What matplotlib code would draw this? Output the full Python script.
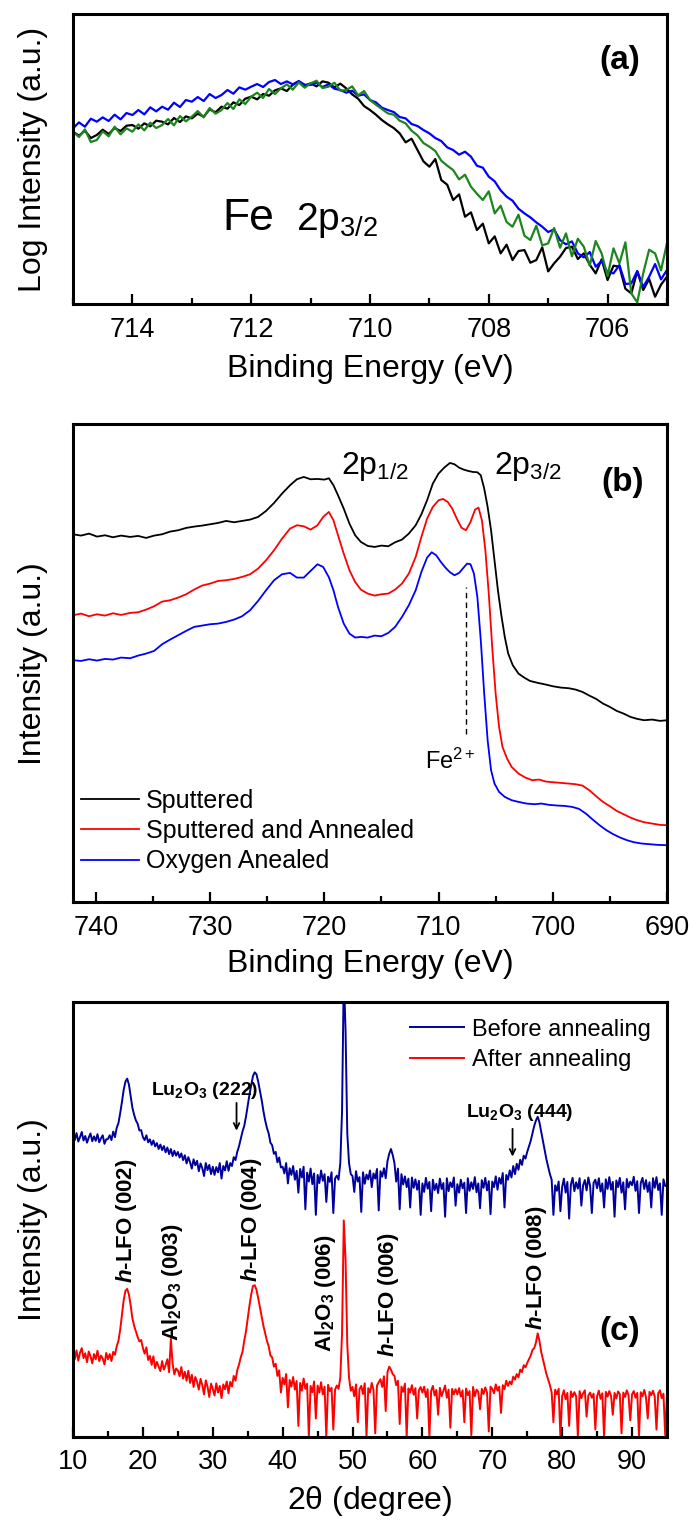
import numpy as np
import matplotlib
matplotlib.use("Agg")
import matplotlib.pyplot as plt
from matplotlib.ticker import MultipleLocator

plt.rcParams['font.family'] = ['Liberation Sans', 'DejaVu Sans']
plt.rcParams['mathtext.fontset'] = 'custom'
plt.rcParams['mathtext.rm'] = 'Liberation Sans'
plt.rcParams['mathtext.it'] = 'Liberation Sans:italic:bold'
plt.rcParams['mathtext.bf'] = 'Liberation Sans:bold'

# --- PANEL (a): Fe 2p3/2 edge, 715 -> 705 eV in 0.1 eV steps ---
a_black = [51.7, 50.5, 52.0, 49.8, 50.7, 52.3, 51.0, 52.8, 51.9, 53.5,
           53.7, 52.6, 54.2, 53.3, 55.0, 54.7, 53.9, 55.8, 54.6, 56.3,
           55.7, 57.1, 56.2, 58.4, 57.5, 59.2, 58.6, 60.5, 59.7, 61.6,
           62.2, 61.4, 63.0, 62.5, 64.1, 64.7, 63.9, 65.8, 66.7, 65.5,
           66.2, 65.3, 66.8, 66.4, 65.0, 66.1, 64.7, 62.9, 61.6, 59.4,
           58.2, 56.8, 55.2, 53.9, 52.8, 51.2, 48.5, 49.6, 46.2, 42.8,
           41.2, 43.5, 37.2, 35.8, 31.2, 32.9, 26.2, 27.5, 22.2, 24.1,
           18.2, 20.3, 15.2, 17.8, 13.2, 15.9, 16.2, 12.4, 13.2, 17.0,
           9.8, 12.2, 14.2, 16.8, 17.2, 13.5, 15.2, 11.8, 9.2, 13.4,
           7.2, 11.5, 11.2, 4.6, 3.2, 9.8, 4.2, 7.5, 2.2, 5.8, 8.2]
a_blue = [52.7, 54.5, 53.2, 55.6, 54.7, 56.0, 54.9, 56.8, 55.4, 57.3,
          56.7, 58.2, 56.9, 59.0, 57.8, 59.2, 58.3, 60.4, 59.1, 61.2,
          60.7, 62.1, 60.9, 63.0, 61.8, 62.7, 64.2, 63.1, 65.0, 64.3,
          65.2, 66.0, 65.1, 66.6, 67.2, 66.0, 66.8, 65.9, 66.9, 65.8,
          65.7, 66.4, 65.1, 65.9, 64.6, 64.2, 63.4, 64.0, 62.5, 62.9,
          61.2, 60.5, 58.9, 58.2, 57.6, 56.1, 55.7, 54.0, 53.4, 52.2,
          51.2, 49.8, 48.9, 47.0, 46.2, 44.8, 45.7, 44.2, 41.5, 40.9,
          38.2, 36.8, 34.1, 32.2, 31.0, 28.6, 27.2, 26.0, 24.5, 23.2,
          21.6, 22.4, 19.2, 17.9, 18.8, 15.2, 14.0, 15.6, 11.2, 12.9,
          9.5, 9.2, 11.7, 6.0, 6.2, 9.9, 5.1, 8.2, 12.0, 7.4, 10.2]
a_green = [51.7, 50.1, 52.4, 48.6, 49.2, 51.8, 50.3, 53.2, 50.9, 52.7,
           51.7, 53.9, 52.1, 54.4, 52.8, 53.7, 55.5, 53.6, 56.4, 54.8,
           56.2, 57.9, 56.0, 58.8, 57.1, 58.2, 60.3, 58.5, 61.4, 60.0,
           62.2, 63.4, 61.8, 64.5, 63.0, 64.7, 65.9, 64.3, 66.5, 64.9,
           66.2, 67.0, 64.8, 65.2, 66.4, 64.0, 64.2, 65.3, 62.6, 63.9,
           61.2, 59.8, 58.5, 57.2, 56.8, 55.0, 54.2, 52.0, 50.6, 48.3,
           47.2, 45.9, 43.0, 41.5, 40.2, 37.4, 38.8, 35.2, 33.1, 31.2,
           33.8, 27.2, 29.5, 24.6, 23.2, 26.8, 20.5, 19.2, 23.5, 17.6,
           18.2, 22.8, 16.9, 21.2, 14.3, 19.6, 17.2, 11.5, 18.9, 15.2,
           8.4, 16.7, 12.2, 18.5, 3.2, 0.5, 9.2, 16.3, 15.2, 10.1, 18.2]

# --- PANEL (b): Fe 2p spectra ---
b_black_x = [742.0, 741.3, 740.6, 739.9, 739.2, 738.5, 737.8, 737.0, 736.3, 735.6,
             734.9, 734.2, 733.5, 732.8, 732.1, 731.4, 730.7, 730.0, 729.3, 728.6,
             727.9, 727.2, 726.5, 725.8, 725.1, 724.4, 723.7, 723.0, 722.4, 721.8,
             721.2, 720.6, 720.0, 719.6, 719.2, 718.8, 718.3, 717.8, 717.3, 716.8,
             716.2, 715.6, 715.0, 714.4, 713.8, 713.2, 712.6, 712.0, 711.5, 711.0,
             710.5, 710.0, 709.5, 709.0, 708.6, 708.2, 707.8, 707.4, 707.0, 706.6,
             706.3, 706.0, 705.7, 705.4, 705.1, 704.8, 704.5, 704.2, 703.9, 703.5,
             703.0, 702.5, 702.0, 701.3, 700.6, 700.0, 699.3, 698.6, 698.0, 697.4,
             696.8, 696.2, 695.6, 695.0, 694.4, 693.8, 693.2, 692.6, 692.0, 691.3,
             690.6, 690.0]
b_black = [110.4, 110.0, 110.6, 109.7, 110.1, 109.5, 110.0, 109.6, 109.9, 109.3,
           110.0, 110.4, 111.2, 111.6, 112.3, 112.7, 113.0, 113.4, 113.8, 114.4,
           114.0, 114.4, 114.8, 115.6, 117.4, 119.8, 122.6, 125.1, 126.9, 127.6,
           126.9, 127.0, 126.8, 127.2, 125.1, 122.1, 118.1, 113.6, 110.1, 108.1,
           106.9, 106.6, 107.0, 106.8, 108.0, 108.8, 110.6, 113.1, 116.4, 120.6,
           125.6, 128.6, 130.4, 131.8, 131.4, 130.4, 129.8, 129.4, 129.1, 129.0,
           128.1, 124.1, 118.6, 111.6, 102.6, 93.6, 86.1, 79.6, 74.6, 71.1,
           68.6, 67.4, 66.4, 65.8, 65.3, 64.8, 64.4, 64.2, 63.8, 63.1,
           62.0, 61.0, 59.6, 58.6, 57.4, 56.6, 55.6, 55.0, 54.6, 54.8,
           54.4, 54.6]
b_red_x = [742.0, 741.3, 740.6, 739.9, 739.2, 738.5, 737.8, 737.0, 736.3, 735.6,
           734.9, 734.2, 733.5, 732.8, 732.1, 731.4, 730.7, 730.0, 729.3, 728.6,
           727.9, 727.2, 726.5, 725.8, 725.1, 724.4, 723.7, 723.0, 722.4, 721.8,
           721.2, 720.6, 720.1, 719.6, 719.2, 718.8, 718.3, 717.8, 717.3, 716.8,
           716.2, 715.6, 715.0, 714.4, 713.8, 713.2, 712.6, 712.0, 711.5, 711.0,
           710.5, 710.0, 709.6, 709.2, 708.8, 708.4, 708.0, 707.6, 707.2, 706.8,
           706.5, 706.2, 705.9, 705.6, 705.3, 705.0, 704.7, 704.4, 704.0, 703.6,
           703.0, 702.4, 701.8, 701.2, 700.6, 700.0, 699.3, 698.6, 698.0, 697.4,
           696.8, 696.2, 695.6, 695.0, 694.4, 693.8, 693.2, 692.6, 692.0, 691.3,
           690.6, 690.0]
b_red = [86.1, 86.6, 85.8, 86.4, 86.0, 86.7, 86.2, 86.8, 87.0, 87.8,
         88.8, 90.2, 90.6, 91.4, 92.4, 93.8, 95.0, 95.6, 96.4, 96.6,
         97.0, 97.6, 98.4, 100.1, 102.6, 105.6, 109.1, 112.1, 113.1, 112.8,
         111.8, 113.1, 115.6, 117.1, 114.6, 110.1, 104.6, 99.6, 96.1, 93.8,
         92.6, 92.0, 92.4, 92.6, 93.8, 95.6, 98.6, 103.6, 109.6, 115.1,
         118.6, 120.6, 121.0, 120.1, 118.1, 115.1, 112.4, 111.6, 114.1, 117.8,
         118.4, 114.6, 105.6, 92.6, 76.6, 62.6, 52.6, 46.6, 43.1, 40.6,
         38.6, 37.4, 36.6, 36.8, 36.2, 36.0, 35.8, 35.6, 35.4, 35.0,
         33.6, 31.8, 30.1, 28.8, 27.4, 26.4, 25.4, 24.6, 24.0, 23.6,
         23.2, 23.1]
b_blue_x = [742.0, 741.3, 740.6, 739.9, 739.2, 738.5, 737.8, 737.0, 736.3, 735.6,
            734.9, 734.2, 733.5, 732.8, 732.1, 731.4, 730.7, 730.0, 729.3, 728.6,
            727.9, 727.2, 726.5, 725.8, 725.1, 724.4, 723.7, 723.0, 722.4, 721.8,
            721.2, 720.6, 720.1, 719.6, 719.2, 718.8, 718.3, 717.8, 717.3, 716.8,
            716.2, 715.6, 715.0, 714.4, 713.8, 713.2, 712.6, 712.0, 711.5, 711.0,
            710.6, 710.2, 709.8, 709.4, 709.0, 708.6, 708.2, 707.8, 707.5, 707.2,
            706.9, 706.6, 706.3, 706.0, 705.7, 705.4, 705.1, 704.7, 704.2, 703.6,
            703.0, 702.3, 701.6, 701.0, 700.3, 699.6, 699.0, 698.3, 697.7, 697.1,
            696.5, 695.9, 695.3, 694.7, 694.1, 693.5, 692.9, 692.2, 691.5, 690.8,
            690.0]
b_blue = [72.6, 72.4, 72.9, 72.5, 73.0, 72.8, 73.4, 73.2, 74.0, 74.6,
          75.4, 77.4, 78.8, 80.1, 81.4, 82.6, 83.0, 83.4, 83.6, 84.1,
          84.8, 85.8, 87.6, 90.4, 93.6, 96.6, 98.4, 98.8, 97.4, 97.4,
          99.4, 101.4, 100.6, 97.5, 93.6, 88.6, 83.6, 80.6, 79.4, 79.6,
          79.4, 80.0, 79.8, 80.8, 82.6, 85.6, 89.1, 93.6, 99.1, 103.4,
          105.0, 104.1, 102.1, 100.4, 99.0, 98.1, 98.8, 100.4, 101.6, 101.4,
          98.6, 91.6, 78.6, 62.6, 48.6, 39.6, 35.6, 33.1, 31.6, 30.6,
          30.1, 29.6, 29.4, 29.6, 29.2, 29.0, 28.9, 28.6, 28.0, 26.6,
          24.8, 23.1, 21.6, 20.4, 19.4, 18.6, 18.0, 17.6, 17.4, 17.2,
          17.1]
b_labels = ['Sputtered', 'Sputtered and Annealed', 'Oxygen Anealed']
fe2_x = 707.6

# --- PANEL (c): XRD, 2theta 10 -> 95 deg in 0.25 deg steps ---
c_before = [81.5, 80.2, 82.1, 79.8, 81.0, 82.4, 80.1, 81.3, 79.5, 80.9, 82.0, 79.9, 81.2, 80.0, 81.8, 79.6, 80.7, 81.5, 79.2, 80.4,
            80.5, 81.5, 80.2, 82.5, 81.0, 83.5, 84.8, 87.5, 90.5, 93.8, 96.0, 96.8, 95.2, 92.0, 88.9, 87.0, 85.5, 84.6, 82.8, 82.9,
            81.0, 80.2, 81.5, 79.6, 80.4, 78.9, 80.1, 78.5, 79.4, 77.8, 79.0, 77.5, 78.6, 76.9, 78.2, 76.4, 77.8, 75.9, 77.3, 76.0,
            77.0, 75.5, 76.6, 74.8, 76.1, 73.9, 75.6, 74.2, 72.5, 75.0, 73.4, 74.6, 71.8, 73.9, 72.6, 70.5, 74.0, 72.1, 73.5, 71.0,
            73.0, 70.8, 72.9, 71.5, 74.0, 69.8, 73.2, 72.0, 74.5, 71.9, 74.0, 73.2, 75.6, 74.8, 77.0, 78.5, 80.5, 82.5, 84.0, 86.5,
            89.5, 92.5, 95.0, 97.5, 98.5, 98.0, 96.0, 93.5, 91.0, 88.0, 85.5, 83.5, 82.0, 79.5, 78.8, 76.5, 77.0, 74.2, 75.5, 72.8,
            73.0, 71.2, 74.0, 68.5, 72.6, 70.8, 73.2, 69.5, 71.9, 66.0, 72.4, 70.1, 73.0, 61.5, 71.4, 69.0, 72.5, 68.3, 71.2, 60.0,
            70.8, 68.6, 72.0, 69.2, 71.0, 63.5, 70.3, 68.9, 71.5, 60.5, 69.8, 70.6, 69.5, 74.0, 88.0, 125.0, 110.0, 82.0, 74.0, 71.0,
            70.5, 66.2, 71.8, 69.0, 70.2, 60.8, 71.5, 68.4, 70.9, 69.6, 72.0, 67.5, 71.2, 69.8, 72.4, 61.2, 71.8, 70.3, 72.6, 69.9,
            74.5, 76.5, 77.8, 76.2, 74.0, 69.0, 72.5, 61.5, 71.0, 68.2, 70.4, 67.5, 69.8, 62.0, 70.1, 67.3, 69.6, 66.8, 69.2, 60.0,
            68.5, 66.2, 70.0, 67.1, 68.9, 61.0, 69.5, 66.7, 68.4, 65.9, 69.8, 67.0, 68.6, 59.5, 69.9, 66.4, 68.8, 67.5, 70.1, 62.5,
            68.3, 66.0, 69.5, 67.2, 68.7, 60.5, 69.9, 66.5, 68.8, 67.0, 70.2, 66.1, 68.5, 61.8, 69.4, 67.3, 70.0, 66.6, 69.1, 60.2,
            69.0, 67.5, 70.4, 66.8, 70.0, 68.4, 71.3, 62.0, 70.8, 69.5, 72.0, 70.1, 73.2, 71.0, 73.8, 72.2, 74.9, 73.5, 76.0, 75.2,
            77.0, 78.5, 80.0, 82.0, 84.0, 85.5, 86.5, 85.0, 82.5, 80.0, 77.5, 75.0, 73.0, 71.0, 69.5, 60.0, 68.0, 66.5, 69.0, 61.0,
            67.5, 69.8, 66.0, 68.9, 59.0, 68.2, 70.0, 66.4, 68.8, 67.1, 69.9, 62.5, 68.0, 69.4, 66.6, 70.1, 67.8, 60.5, 68.7, 69.5,
            67.2, 69.9, 66.3, 68.5, 62.0, 69.6, 67.0, 70.2, 66.8, 68.9, 59.5, 69.3, 67.5, 70.0, 66.0, 68.8, 61.5, 69.7, 67.4, 69.0,
            68.0, 70.3, 66.5, 69.1, 60.5, 68.6, 70.0, 67.0, 69.4, 66.2, 68.8, 62.0, 69.9, 67.3, 70.2, 66.7, 68.5, 60.0, 69.6, 67.8,
            68.0]
c_after = [22.5, 21.0, 23.4, 20.6, 22.8, 24.0, 21.3, 22.6, 20.2, 23.1, 21.8, 19.9, 22.4, 21.0, 23.3, 20.5, 22.0, 21.2, 19.6, 22.7,
           21.0, 22.4, 20.5, 23.0, 22.2, 24.5, 26.0, 29.0, 33.0, 37.0, 39.5, 40.0, 38.5, 35.5, 32.0, 30.0, 28.5, 27.0, 25.8, 26.2,
           24.0, 22.5, 24.2, 20.8, 21.9, 19.5, 21.8, 18.6, 20.3, 19.0, 17.8, 20.5, 18.2, 19.4, 21.0, 17.5, 26.5, 19.8, 16.9, 18.5,
           18.0, 16.4, 18.9, 15.8, 17.6, 15.2, 17.9, 14.6, 16.8, 13.5, 16.2, 14.9, 12.8, 15.7, 14.0, 11.5, 15.3, 13.6, 10.8, 14.4,
           13.0, 11.2, 14.5, 12.0, 13.8, 10.5, 14.2, 12.9, 15.0, 11.8, 14.9, 13.6, 16.5, 15.2, 18.0, 19.5, 21.5, 23.0, 26.0, 28.5,
           32.0, 35.5, 38.5, 40.8, 41.0, 39.8, 37.5, 35.0, 32.5, 30.0, 28.0, 26.0, 24.5, 22.0, 21.5, 19.0, 19.8, 16.5, 18.0, 12.0,
           16.0, 14.2, 17.0, 8.0, 15.4, 13.6, 16.2, 12.8, 15.1, 3.0, 14.6, 12.5, 15.8, 13.0, 14.4, 0.0, 13.8, 12.1, 15.0, 5.0,
           13.9, 12.0, 14.8, 11.5, 13.6, 0.0, 14.1, 12.4, 13.3, 2.0, 12.8, 13.9, 13.0, 16.0, 28.0, 58.5, 48.0, 25.0, 16.0, 12.5,
           13.5, 11.0, 14.2, 4.0, 12.9, 13.8, 11.6, 14.5, 0.0, 13.2, 12.0, 14.6, 12.7, 1.0, 13.9, 14.8, 15.6, 13.5, 16.4, 7.0,
           17.5, 19.0, 18.2, 17.0, 16.5, 14.0, 15.2, 3.5, 13.6, 12.2, 14.4, 0.0, 13.1, 12.0, 14.0, 11.4, 13.2, 5.0, 12.6, 13.5,
           12.0, 13.6, 10.8, 12.9, 0.0, 12.4, 13.8, 11.2, 12.7, 6.0, 13.3, 11.0, 12.5, 13.9, 10.6, 12.8, 2.5, 13.0, 11.5, 12.9,
           11.5, 13.2, 10.9, 12.6, 4.0, 13.1, 11.3, 12.4, 0.5, 13.5, 11.0, 12.8, 12.2, 7.5, 13.0, 11.6, 13.4, 12.0, 1.5, 13.6,
           13.0, 11.8, 14.2, 12.5, 13.6, 6.5, 14.0, 12.9, 15.2, 13.8, 15.0, 14.2, 16.3, 15.5, 17.0, 16.1, 18.2, 17.5, 19.4, 18.8,
           20.0, 21.0, 22.0, 23.5, 24.0, 25.5, 28.0, 26.0, 23.0, 21.0, 19.0, 17.0, 15.5, 14.0, 12.0, 4.0, 12.8, 11.5, 13.0, 0.0,
           11.0, 12.6, 10.2, 11.9, 3.0, 12.3, 10.8, 12.1, 11.0, 0.0, 12.4, 10.5, 11.8, 12.6, 5.5, 11.2, 12.0, 10.6, 11.7, 2.0,
           11.0, 12.5, 10.3, 11.8, 0.0, 12.2, 10.9, 12.4, 11.1, 6.0, 11.9, 10.4, 12.3, 11.6, 1.0, 12.0, 10.8, 12.6, 11.3, 4.5,
           11.5, 12.4, 10.6, 11.9, 0.0, 12.1, 11.0, 12.7, 10.7, 5.0, 12.2, 11.3, 12.5, 10.9, 2.0, 11.8, 12.6, 10.5, 11.7, 0.5,
           11.0]
c_labels = ['Before annealing', 'After annealing']
# vertical peak labels: (2theta, bottom of text, label)
c_peaks = [(17.6, 41.5, r'$h$-LFO (002)'),
           (24.2, 26.0, r'Al$\mathregular{_2}$O$\mathregular{_3}$ (003)'),
           (35.6, 42.0, r'$h$-LFO (004)'),
           (46.1, 23.0, r'Al$\mathregular{_2}$O$\mathregular{_3}$ (006)'),
           (55.2, 21.5, r'$h$-LFO (006)'),
           (76.4, 29.0, r'$h$-LFO (008)')]
# Lu2O3 arrows: (text x, text y, arrow x, arrow top, arrow tip, label)
c_lu = [(21.1, 92.5, 33.4, 91.0, 82.0, r'Lu$\mathregular{_2}$O$\mathregular{_3}$ (222)'),
        (66.2, 86.5, 72.9, 84.0, 75.0, r'Lu$\mathregular{_2}$O$\mathregular{_3}$ (444)')]

TICK_FS = 19.5
LABEL_FS = 23


def style_axis(ax, major, minor):
    ax.xaxis.set_major_locator(MultipleLocator(major))
    ax.xaxis.set_minor_locator(MultipleLocator(minor))
    ax.tick_params(axis='x', which='both', direction='in', top=False,
                   labelsize=TICK_FS, pad=9, width=1.6)
    ax.tick_params(axis='x', which='major', length=7)
    ax.tick_params(axis='x', which='minor', length=4.5)
    ax.set_yticks([])
    for s in ax.spines.values():
        s.set_linewidth(2.2)


fig = plt.figure(figsize=(6.89, 15.24), dpi=100)
LEFT, WIDTH = 0.106, 0.862

# (a)
ax = fig.add_axes([LEFT, 0.8005, WIDTH, 0.1903])
xa = np.linspace(715, 705, len(a_black))
ax.plot(xa, a_black, color='black', lw=1.6)
ax.plot(xa, a_blue, color='#0000ff', lw=1.6)
ax.plot(xa, a_green, color='#1c861c', lw=1.6)
ax.set_xlim(715, 705)
ax.set_ylim(0, 87)
style_axis(ax, 2, 1)
ax.set_xlabel('Binding Energy (eV)', fontsize=LABEL_FS, labelpad=8)
ax.set_ylabel('Log Intensity (a.u.)', fontsize=LABEL_FS, labelpad=18)
ax.text(0.252, 0.255, 'Fe', transform=ax.transAxes, fontsize=32)
ax.text(0.376, 0.255, r'2p$\mathregular{_{3/2}}$', transform=ax.transAxes, fontsize=28)
ax.text(0.92, 0.84, '(a)', transform=ax.transAxes, fontsize=24,
        fontweight='bold', ha='center', va='center')

# (b)
ax = fig.add_axes([LEFT, 0.408, WIDTH, 0.3136])
ax.plot(b_black_x, b_black, color='black', lw=1.3, label=b_labels[0])
ax.plot(b_red_x, b_red, color='#ff0000', lw=1.3, label=b_labels[1])
ax.plot(b_blue_x, b_blue, color='#0000ff', lw=1.3, label=b_labels[2])
ax.plot([fe2_x, fe2_x], [50.6, 94.6], color='black', lw=1.0, ls=(0, (4, 3)))
ax.text(fe2_x + 1.4, 40.1, r'Fe$\mathregular{^{2+}}$', fontsize=17, ha='center')
ax.text(718.5, 128.6, r'2p$\mathregular{_{1/2}}$', fontsize=23)
ax.text(705.1, 128.6, r'2p$\mathregular{_{3/2}}$', fontsize=23)
ax.set_xlim(742, 690)
ax.set_ylim(0, 143.4)
style_axis(ax, 10, 5)
ax.set_xlabel('Binding Energy (eV)', fontsize=LABEL_FS, labelpad=6)
ax.set_ylabel('Intensity (a.u.)', fontsize=LABEL_FS, labelpad=18)
ax.text(0.925, 0.879, '(b)', transform=ax.transAxes, fontsize=24,
        fontweight='bold', ha='center', va='center')
ax.legend(loc='lower left', bbox_to_anchor=(0.005, 0.05), borderaxespad=0,
          frameon=False, fontsize=18, handlelength=2.3, handletextpad=0.3,
          labelspacing=0.25, borderpad=0.2)

# (c)
ax = fig.add_axes([LEFT, 0.0571, WIDTH, 0.2854])
xc = np.linspace(10, 95, len(c_before))
ax.plot(xc, c_before, color='#00009c', lw=1.4, label=c_labels[0])
ax.plot(xc, c_after, color='#ff0000', lw=1.4, label=c_labels[1])
for px, py, lab in c_peaks:
    ax.text(px, py, lab, rotation=90, fontsize=16, fontweight='bold',
            ha='center', va='bottom')
for tx, ty, axx, y0, y1, lab in c_lu:
    ax.text(tx, ty, lab, fontsize=14, fontweight='bold')
    ax.annotate('', xy=(axx, y1), xytext=(axx, y0),
                arrowprops=dict(arrowstyle='->', color='black', lw=1.3))
ax.set_xlim(10, 95)
ax.set_ylim(0, 117.5)
style_axis(ax, 10, 5)
ax.set_xlabel(r'2$\mathregular{\theta}$ (degree)', fontsize=LABEL_FS, labelpad=6)
ax.set_ylabel('Intensity (a.u.)', fontsize=LABEL_FS, labelpad=18)
ax.text(0.92, 0.243, '(c)', transform=ax.transAxes, fontsize=24,
        fontweight='bold', ha='center', va='center')
ax.legend(loc='upper right', bbox_to_anchor=(1.0, 1.0), borderaxespad=0.4,
          frameon=False, fontsize=17, handlelength=2.3, handletextpad=0.3,
          labelspacing=0.35, borderpad=0.3)

fig.savefig('out.png', dpi=100)
